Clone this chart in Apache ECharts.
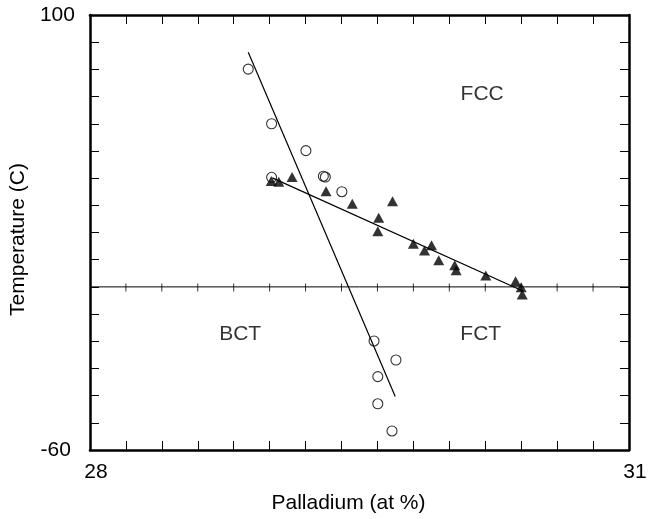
<!DOCTYPE html>
<html>
<head>
<meta charset="utf-8">
<script src="https://cdn.jsdelivr.net/npm/echarts@6/dist/echarts.min.js"></script>
<style>
html,body{margin:0;padding:0;background:#fff;}
#chart{width:659px;height:519px;}
</style>
</head>
<body>
<div id="chart"></div>
<script>
// ---- data ----
const openCircles = [
  [28.881, 80.1], [29.011, 60.0], [29.202, 50.1], [29.011, 40.3],
  [29.299, 40.7], [29.310, 40.4], [29.402, 35.0], [29.581, -19.9],
  [29.703, -26.9], [29.602, -33.0], [29.602, -43.0], [29.681, -53.0]
];
const filledTriangles = [
  [29.009, 38.9], [29.051, 38.7], [29.125, 40.4], [29.314, 35.2],
  [29.460, 30.6], [29.684, 31.5], [29.607, 25.4], [29.602, 20.5],
  [29.800, 15.9], [29.862, 13.4], [29.901, 15.3], [29.941, 9.8],
  [30.030, 8.0], [30.038, 6.1], [30.203, 4.2], [30.369, 2.1],
  [30.400, -0.1], [30.406, -2.8]
];
const steepFit = [[28.881, 86.3], [29.699, -40.3]];
const shallowFit = [[29.015, 40.1], [30.409, -1.5]];
const zeroLine = [[28, 0], [31, 0]];
const zeroLineTicks = [28.2, 28.4, 28.6, 28.8, 29.0, 29.2, 29.4, 29.6, 29.8, 30.0, 30.2, 30.4, 30.6, 30.8];
const regionLabels = [
  { name: 'FCC', value: [30.183, 70.9] },
  { name: 'BCT', value: [28.836, -17.5] },
  { name: 'FCT', value: [30.175, -17.5] }
];
const xMin = 28, xMax = 31, xStep = 0.2;
const yMin = -60, yMax = 100, yStep = 10;
const xTitle = 'Palladium (at %)';
const yTitle = 'Temperature (C)';

// ---- chart ----
const FONT = '"Liberation Sans", Arial, Helvetica, sans-serif';
const near = (a, b) => Math.abs(a - b) < 1e-6;
const axisLineStyle = { color: '#000', width: 2.5 };
const tickStyle = { color: '#000', width: 1 };

const chart = echarts.init(document.getElementById('chart'), null, { renderer: 'canvas' });
chart.setOption({
  animation: false,
  backgroundColor: '#fff',
  textStyle: { fontFamily: FONT, color: '#000' },
  grid: { left: 84, top: 15, right: 30, bottom: 68, containLabel: false },
  xAxis: [
    {
      type: 'value', position: 'bottom', min: xMin, max: xMax, interval: xStep,
      axisLine: { show: true, onZero: false, lineStyle: axisLineStyle },
      axisTick: { show: true, inside: true, length: 9, lineStyle: tickStyle },
      splitLine: { show: false },
      axisLabel: {
        show: true, margin: 12, fontSize: 21, fontFamily: FONT, color: '#000',
        padding: [0, 0, 0, 12],
        formatter: v => (near(v, xMin) || near(v, xMax)) ? String(Math.round(v)) : ''
      },
      name: xTitle, nameLocation: 'middle', nameGap: 43,
      nameTextStyle: { fontSize: 21, fontFamily: FONT, color: '#000', padding: [0, 22, 0, 0] }
    },
    {
      type: 'value', position: 'top', min: xMin, max: xMax, interval: xStep,
      axisLine: { show: true, onZero: false, lineStyle: axisLineStyle },
      axisTick: { show: true, inside: true, length: 9, lineStyle: tickStyle },
      splitLine: { show: false }, axisLabel: { show: false }
    }
  ],
  yAxis: [
    {
      type: 'value', position: 'left', min: yMin, max: yMax, interval: yStep,
      axisLine: { show: true, onZero: false, lineStyle: axisLineStyle },
      axisTick: { show: true, inside: true, length: 9, lineStyle: tickStyle },
      splitLine: { show: false },
      axisLabel: {
        show: true, margin: 15, fontSize: 21, fontFamily: FONT, color: '#000',
        formatter: v => near(v, yMax) ? '{a|' + yMax + '}' : (near(v, yMin) ? '{b|' + yMin + '}' : ''),
        rich: {
          a: { fontSize: 21, fontFamily: FONT, color: '#000' },
          b: { fontSize: 21, fontFamily: FONT, color: '#000', padding: [0, 4, 0, 0] }
        }
      },
      name: yTitle, nameLocation: 'middle', nameGap: 46, nameRotate: 90,
      nameTextStyle: { fontSize: 21, fontFamily: FONT, color: '#000', padding: [0, 14, 0, 0] }
    },
    {
      type: 'value', position: 'right', min: yMin, max: yMax, interval: yStep,
      axisLine: { show: true, onZero: false, lineStyle: axisLineStyle },
      axisTick: { show: true, inside: true, length: 9, lineStyle: tickStyle },
      splitLine: { show: false }, axisLabel: { show: false }
    }
  ],
  series: [
    {
      name: 'zero', type: 'line', data: zeroLine, symbol: 'none',
      lineStyle: { color: '#000', width: 1 }, silent: true, z: 1
    },
    {
      name: 'zeroTicks', type: 'scatter', data: zeroLineTicks.map(x => [x, 0]),
      symbol: 'rect', symbolSize: [1, 8], symbolOffset: [0, 0.5],
      itemStyle: { color: '#000' }, silent: true, z: 1
    },
    {
      name: 'steepFit', type: 'line', data: steepFit, symbol: 'none',
      lineStyle: { color: '#000', width: 1.2 }, silent: true, z: 2
    },
    {
      name: 'shallowFit', type: 'line', data: shallowFit, symbol: 'none',
      lineStyle: { color: '#000', width: 1.2 }, silent: true, z: 2
    },
    {
      name: 'open', type: 'scatter', data: openCircles, symbol: 'circle', symbolSize: 10,
      itemStyle: { color: 'rgba(0,0,0,0)', borderColor: '#000', borderWidth: 1.1 }, z: 3
    },
    {
      name: 'filled', type: 'scatter', data: filledTriangles, symbol: 'triangle', symbolSize: [11, 10],
      itemStyle: { color: '#000' }, z: 3
    },
    {
      name: 'regions', type: 'scatter', data: regionLabels, symbolSize: 0,
      label: {
        show: true, position: 'inside', formatter: p => p.name,
        fontSize: 21, fontFamily: FONT, color: '#000'
      },
      silent: true, z: 4
    }
  ]
});
</script>
</body>
</html>
